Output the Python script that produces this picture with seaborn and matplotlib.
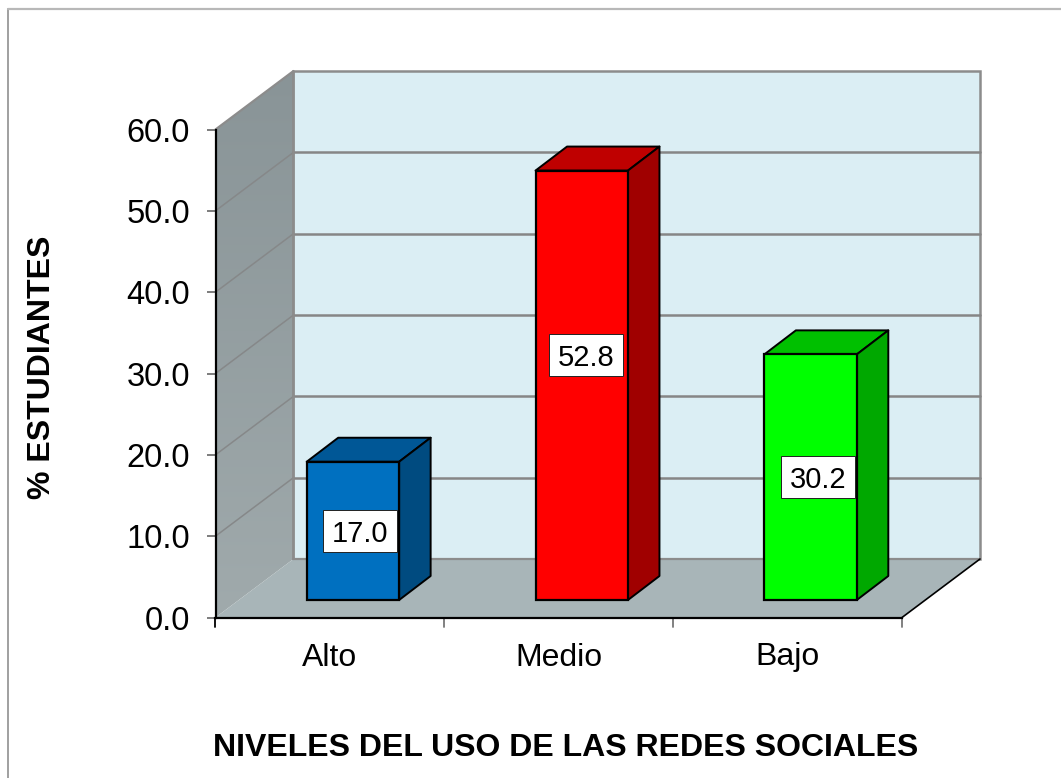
import numpy as np
import pandas as pd
import matplotlib
matplotlib.use("Agg")
import matplotlib.pyplot as plt
from matplotlib.colors import LinearSegmentedColormap
from matplotlib.patches import Polygon, Rectangle
from matplotlib.lines import Line2D
import seaborn as sns

categories = ["Alto", "Medio", "Bajo"]
values = [17.0, 52.8, 30.2]
value_labels = ["17.0", "52.8", "30.2"]
front_colors = ["#0070C0", "#FF0000", "#00FF00"]
top_colors = ["#005796", "#BF0000", "#00C000"]
side_colors = ["#004B80", "#A00000", "#00A800"]
yticks = [0, 10, 20, 30, 40, 50, 60]

W, H = 1061, 778
L, R, T, B = 215.5, 902.0, 129.5, 617.5

sns.set_theme(style="white")
plt.rcParams["font.family"] = ["Liberation Sans", "DejaVu Sans"]

fig = plt.figure(figsize=(W / 100, H / 100), dpi=100, facecolor="white")
ax = fig.add_axes([L / W, 1 - B / H, (R - L) / W, (B - T) / H])
ax.patch.set_alpha(0)

df = pd.DataFrame({"nivel": categories, "pct": values})
BAR_W = 92.5 / 229
sns.barplot(data=df, x="nivel", y="pct", hue="nivel", palette=front_colors,
            width=BAR_W, legend=False, ax=ax, saturation=1, zorder=6,
            edgecolor="black", linewidth=1.6)
ax.set_xlim(-0.5, 2.5)
ax.set_ylim(0, 60)
bars = sorted(list(ax.patches), key=lambda r: r.get_x())

px = 1 / ((R - L) / 3)          # data units per pixel, x
py = 60 / (B - T)               # data units per pixel, y
WX, WY = 78 * px, 58.5 * py     # depth of the chart box
SX, SY = 23 * px, 17.5 * py     # bar front shift from the axis plane
DX, DY = 31.5 * px, 24 * py     # bar depth
X0, X1 = -0.5, 2.5
EDGE = "#8c8c8c"


def poly(pts, **kw):
    kw.setdefault("clip_on", False)
    p = Polygon(pts, closed=True, **kw)
    ax.add_patch(p)
    return p


# side wall gradient
side = poly([(X0, 0), (X0 + WX, WY), (X0 + WX, 60 + WY), (X0, 60)],
            facecolor="none", edgecolor="none", zorder=1)
grad = np.linspace(0, 1, 256)[:, None]
im = ax.imshow(grad, extent=(X0, X0 + WX, 0, 60 + WY), origin="upper",
               cmap=LinearSegmentedColormap.from_list("w", ["#899497", "#a0aaac"]),
               aspect="auto", zorder=1)
im.set_clip_path(side)
im.set_clip_box(fig.bbox)
ax.set_xlim(X0, X1)
ax.set_ylim(0, 60)

# back wall and floor
poly([(X0 + WX, WY), (X1 + WX, WY), (X1 + WX, 60 + WY), (X0 + WX, 60 + WY)],
     facecolor="#DBEEF4", edgecolor=EDGE, linewidth=1.8, zorder=1.5)
poly([(X0, 0), (X1, 0), (X1 + WX, WY), (X0 + WX, WY)],
     facecolor="#A8B5B8", edgecolor="none", zorder=2)
ax.add_line(Line2D([X0 + WX, X1 + WX], [WY, WY], color=EDGE, lw=1.6, zorder=2.2, clip_on=False))
ax.add_line(Line2D([X0, X0 + WX, X0 + WX], [60, 60 + WY, WY], color=EDGE, lw=1.6, zorder=2.2, clip_on=False))
ax.add_line(Line2D([X1, X1 + WX], [0, WY], color="black", lw=1.2, zorder=2.2, clip_on=False))

# gridlines on walls
for t in yticks[1:-1]:
    ax.add_line(Line2D([X0 + WX, X1 + WX], [t + WY, t + WY], color="#868686", lw=1.8,
                       zorder=2, clip_on=False))
    ax.add_line(Line2D([X0, X0 + WX], [t, t + WY], color="#868889", lw=1.1,
                       zorder=2, clip_on=False))

# bars: move the seaborn rectangles into depth and add top/side faces
for rect, v, ct, cs in zip(bars, values, top_colors, side_colors):
    rect.set_x(rect.get_x() + SX)
    rect.set_y(SY)
    rect.set_clip_on(False)
    x0, x1 = rect.get_x(), rect.get_x() + rect.get_width()
    y0, y1 = SY, SY + v
    poly([(x0, y1), (x1, y1), (x1 + DX, y1 + DY), (x0 + DX, y1 + DY)],
         facecolor=ct, edgecolor="black", linewidth=1.4, zorder=5, joinstyle="round")
    poly([(x1, y0), (x1 + DX, y0 + DY), (x1 + DX, y1 + DY), (x1, y1)],
         facecolor=cs, edgecolor="black", linewidth=1.4, zorder=5, joinstyle="round")

# value labels
LW, LH = 73.5 * px, 42 * py
lab_dx = [7 * px, 4.5 * px, 7.5 * px]
lab_dy = [0, 30 * py, 0]
for rect, v, s, dx, dy in zip(bars, values, value_labels, lab_dx, lab_dy):
    cx = rect.get_x() + rect.get_width() / 2 + dx
    cy = SY + v / 2 + dy
    ax.add_patch(Rectangle((cx - LW / 2, cy - LH / 2), LW, LH, facecolor="white",
                           edgecolor="#222222", linewidth=0.7, zorder=8, clip_on=False))
    ax.text(cx, cy, s, ha="center", va="center_baseline", fontsize=21,
            color="black", zorder=9)

# axes
for sp in ["top", "right"]:
    ax.spines[sp].set_visible(False)
for sp in ["left", "bottom"]:
    ax.spines[sp].set_visible(True)
    ax.spines[sp].set_color("black")
    ax.spines[sp].set_linewidth(1.6)
    ax.spines[sp].set_zorder(3)
ax.set_yticks(yticks)
ax.set_yticklabels([f"{t:.1f}" for t in yticks])
ax.set_xticks([0, 1, 2])
ax.set_xticklabels(categories)
ax.tick_params(axis="y", left=True, length=6.5, width=1.2, color="#666666",
               labelsize=23.5, labelcolor="black", pad=12)
ax.tick_params(axis="x", bottom=False, labelsize=23, labelcolor="black", pad=12)
for xb, c in zip([-0.5, 0.5, 1.5, 2.5], ["black", "#777777", "#777777", "#777777"]):
    ax.plot([xb, xb], [0, -9.5 * py], color=c, lw=1.3, clip_on=False, zorder=3)
ax.set_xlim(X0, X1)
ax.set_ylim(0, 60)
ax.set_xlabel("")
ax.set_ylabel("")

fig.text(566 / W, 1 - 748 / H, "NIVELES DEL USO DE LAS REDES SOCIALES",
         ha="center", va="center", fontsize=23, fontweight="bold", color="black")
fig.text(42 / W, 1 - 367 / H, "% ESTUDIANTES", ha="center", va="center",
         rotation=90, fontsize=23, fontweight="bold", color="black")

# outer frame (open on the right and bottom, running off the picture)
fig.add_artist(Line2D([7.5 / W, 7.5 / W], [0, 1 - 8.5 / H], color="#a0a0a0", lw=1.4))
fig.add_artist(Line2D([7.5 / W, 1], [1 - 8.5 / H, 1 - 8.5 / H], color="#b8b8b8", lw=1.6))

fig.savefig("out.png", dpi=100, facecolor="white")
